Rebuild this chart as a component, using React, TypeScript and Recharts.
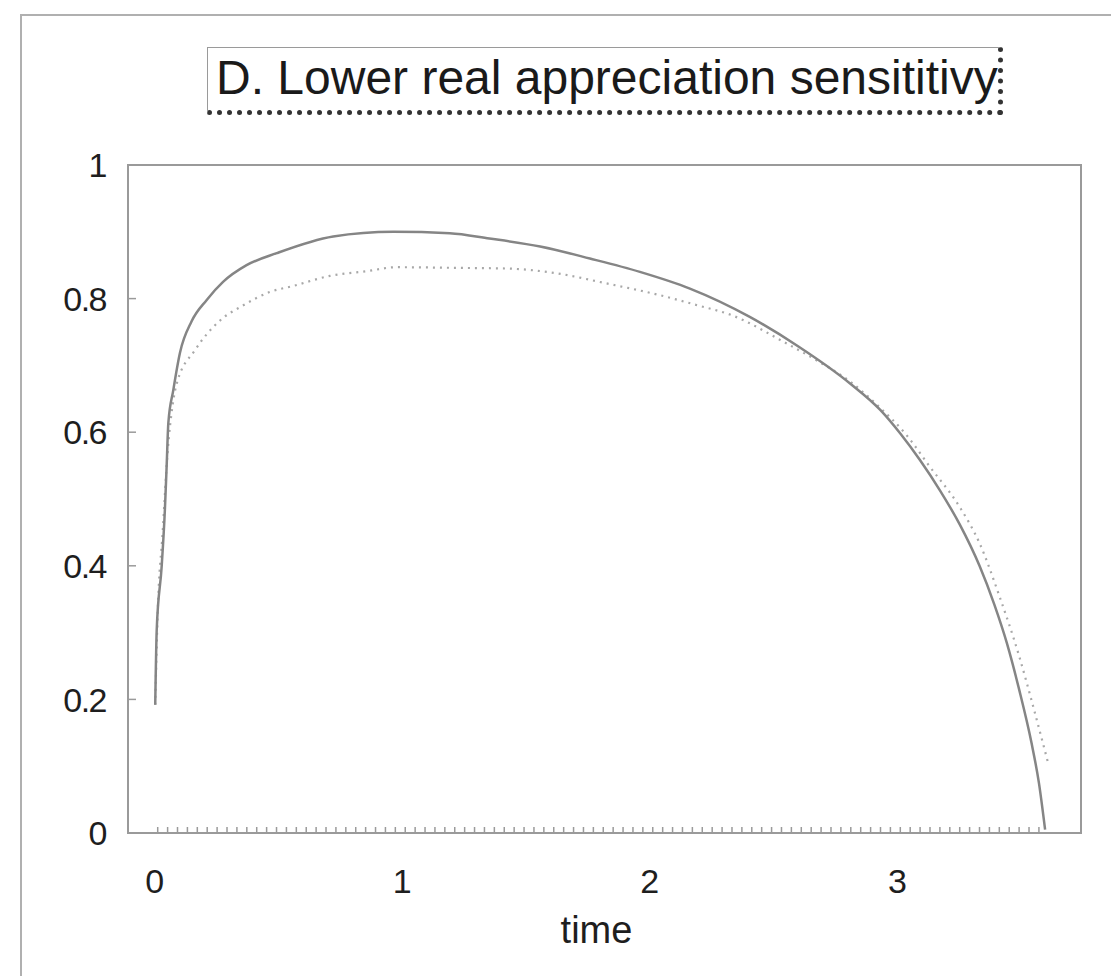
import React from 'react';
import { LineChart, Line, XAxis, YAxis, ReferenceArea } from 'recharts';

const solidTime = [0.01, 0.016, 0.036, 0.049, 0.056, 0.063, 0.083, 0.11, 0.157, 0.218, 0.284, 0.379, 0.501, 0.729, 0.972, 1.2, 1.36, 1.565, 1.766, 1.968, 2.17, 2.41, 2.61, 2.817, 2.94, 3.02, 3.1, 3.18, 3.26, 3.34, 3.4, 3.45, 3.5, 3.55, 3.58, 3.605];
const solidValue = [0.192, 0.304, 0.399, 0.484, 0.548, 0.614, 0.663, 0.719, 0.766, 0.798, 0.825, 0.85, 0.868, 0.893, 0.9, 0.898, 0.89, 0.878, 0.86, 0.84, 0.815, 0.773, 0.728, 0.673, 0.633, 0.598, 0.558, 0.513, 0.462, 0.4, 0.342, 0.285, 0.215, 0.135, 0.075, 0.005];

const dottedTime = [0.01, 0.02, 0.04, 0.06, 0.08, 0.097, 0.171, 0.265, 0.366, 0.474, 0.568, 0.716, 0.864, 0.985, 1.228, 1.43, 1.63, 1.83, 2.05, 2.2, 2.34, 2.55, 2.68, 2.82, 2.94, 3.04, 3.14, 3.26, 3.34, 3.42, 3.5, 3.56, 3.617];
const dottedValue = [0.192, 0.33, 0.45, 0.57, 0.64, 0.673, 0.723, 0.765, 0.79, 0.81, 0.819, 0.834, 0.841, 0.847, 0.846, 0.845, 0.838, 0.823, 0.805, 0.79, 0.775, 0.735, 0.708, 0.675, 0.636, 0.598, 0.548, 0.488, 0.434, 0.355, 0.265, 0.185, 0.105];

const yTicks = [0, 0.2, 0.4, 0.6, 0.8, 1];
const yTickLabels = ['0', '0.2', '0.4', '0.6', '0.8', '1'];
const xMajorTicks = [0, 1, 2, 3];
const xMajorLabels = ['0', '1', '2', '3'];
const xMinorStep = 0.04;
const xMinorStart = 0.02;
const xMinorEnd = 3.6;

const xMinorTicks: number[] = [];
for (let t = xMinorStart; t <= xMinorEnd + 1e-9; t += xMinorStep) xMinorTicks.push(Math.round(t * 1000) / 1000);
const xAllTicks = [...xMajorTicks, ...xMinorTicks].sort((a, b) => a - b);

const solidData = solidTime.map((t, i) => ({ t, v: solidValue[i] }));
const dottedData = dottedTime.map((t, i) => ({ t, v: dottedValue[i] }));

const FONT = '"Liberation Sans", Arial, sans-serif';

const XTick = (props: any) => {
  const { x, y, payload } = props;
  const v = payload.value;
  const idx = xMajorTicks.findIndex((m) => Math.abs(m - v) < 1e-6);
  if (idx >= 0) {
    return (
      <g>
        <text x={x + 2} y={y + 60} textAnchor="middle" fontFamily={FONT} fontSize={34} fill="#1e1e1e">
          {xMajorLabels[idx]}
        </text>
      </g>
    );
  }
  return <line x1={x} x2={x} y1={y} y2={y - 6} stroke="#9a9a9a" strokeWidth={1.5} />;
};

const YTick = (props: any) => {
  const { x, y, payload } = props;
  const idx = yTicks.findIndex((m) => Math.abs(m - payload.value) < 1e-6);
  return (
    <g>
      <line x1={x} x2={x + 8} y1={y} y2={y} stroke="#9a9a9a" strokeWidth={1.5} />
      <text x={x - 22} y={y} dy="0.36em" textAnchor="end" fontFamily={FONT} fontSize={34} letterSpacing={-1.5} fill="#1e1e1e">
        {idx >= 0 ? yTickLabels[idx] : ''}
      </text>
    </g>
  );
};

export default function App() {
  return (
    <div style={{ position: 'absolute', left: 0, top: 0, width: 1111, height: 976, background: '#fff', overflow: 'hidden' }}>
      <div
        style={{
          position: 'absolute',
          left: 20,
          top: 14,
          width: 1100,
          height: 1000,
          borderLeft: '2px solid #b0b0b0',
          borderTop: '2px solid #b0b0b0',
        }}
      />
      <div
        style={{
          position: 'absolute',
          left: 207,
          top: 47,
          width: 790,
          height: 62,
          border: '1.5px solid #9a9a9a',
          borderBottom: '5px dotted #333',
          borderRight: '5px dotted #333',
          fontFamily: FONT,
          fontSize: 48,
          lineHeight: '48px',
          color: '#1a1a1a',
          whiteSpace: 'nowrap',
        }}
      >
        <span style={{ position: 'absolute', left: 8, top: 6 }}>D. Lower real appreciation sensititivy</span>
      </div>
      <LineChart width={1111} height={976} margin={{ top: 165, right: 30, bottom: 0, left: 28 }}>
        <XAxis
          dataKey="t"
          type="number"
          domain={[-0.1, 3.75]}
          ticks={xAllTicks}
          interval={0}
          tick={<XTick />}
          tickSize={0}
          tickMargin={0}
          tickLine={false}
          axisLine={false}
          height={143}
          allowDuplicatedCategory={false}
          label={{ value: 'time', position: 'insideBottom', offset: 33, dx: -8, fontFamily: FONT, fontSize: 38, fill: '#1e1e1e' }}
        />
        <YAxis
          type="number"
          domain={[0, 1]}
          ticks={yTicks}
          interval={0}
          tick={<YTick />}
          tickSize={0}
          tickMargin={0}
          tickLine={false}
          axisLine={false}
          width={100}
        />
        <ReferenceArea x1={-0.1} x2={3.75} y1={0} y2={1} fill="none" stroke="#9a9a9a" strokeWidth={2} />
        <Line
          data={dottedData}
          dataKey="v"
          type="monotone"
          stroke="#a8a8a8"
          strokeWidth={2.2}
          strokeDasharray="2 5"
          dot={false}
          isAnimationActive={false}
        />
        <Line
          data={solidData}
          dataKey="v"
          type="monotone"
          stroke="#858585"
          strokeWidth={2.5}
          dot={false}
          isAnimationActive={false}
        />
      </LineChart>
    </div>
  );
}
